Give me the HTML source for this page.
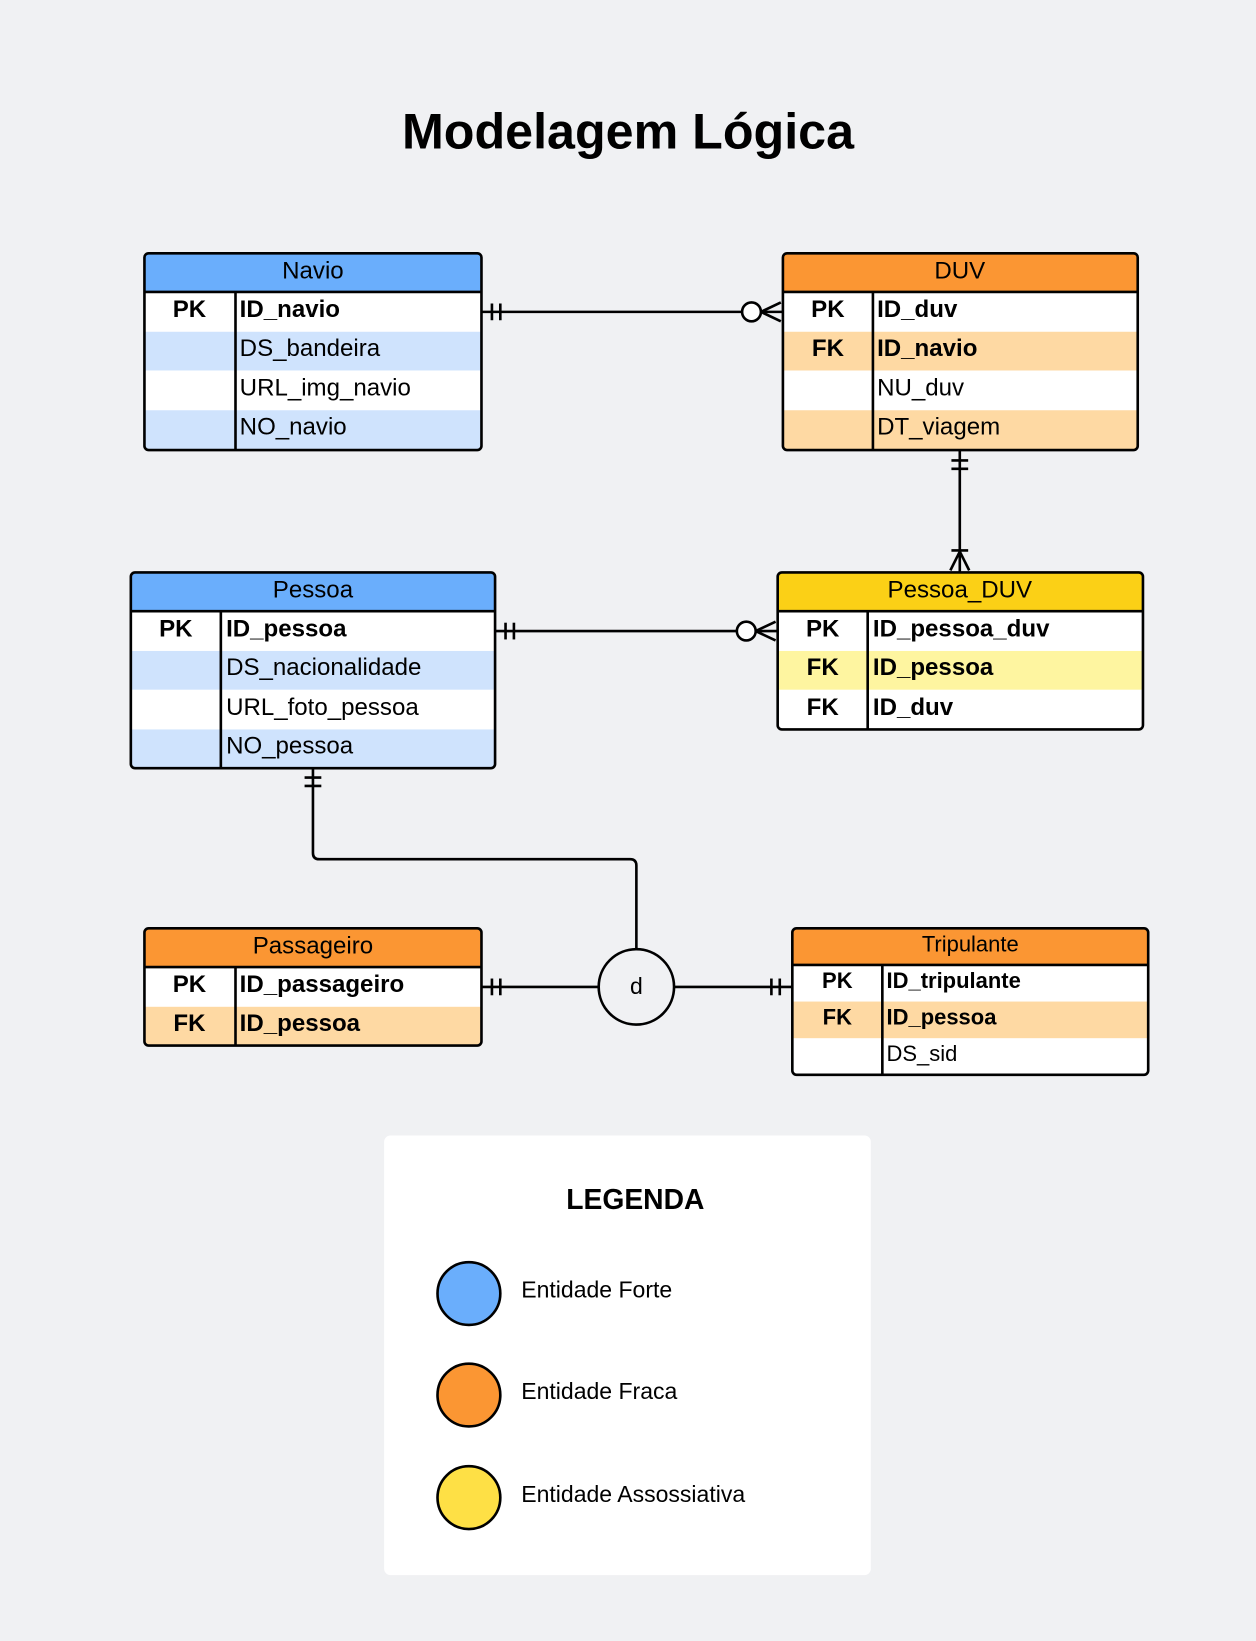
<!DOCTYPE html>
<html><head><meta charset="utf-8"><style>
html,body{margin:0;padding:0;background:#f0f1f3;}
svg{display:block;}
text{font-family:"Liberation Sans",Arial,sans-serif;}
</style></head><body>
<svg width="1256" height="1641" viewBox="0 0 1200 1568" preserveAspectRatio="none" xmlns="http://www.w3.org/2000/svg">
<rect width="1200" height="1568" fill="#f0f1f3"/>
<text x="600" y="142" font-size="48" font-weight="bold" text-anchor="middle" fill="#000">Modelagem Lógica</text>

<!-- Navio -->
<g>
<rect x="138" y="242" width="322" height="188" rx="4" fill="#fff"/>
<rect x="138" y="242" width="322" height="37" rx="4" fill="#6aaefc"/>
<rect x="138" y="317" width="322" height="37" fill="#cfe3fd"/>
<rect x="138" y="392" width="322" height="37" fill="#cfe3fd"/>
<line x1="138" y1="279" x2="460" y2="279" stroke="#000" stroke-width="2.5"/>
<line x1="225" y1="279" x2="225" y2="430" stroke="#000" stroke-width="2.5"/>
<rect x="138" y="242" width="322" height="188" rx="4" fill="none" stroke="#000" stroke-width="2.5"/>
<text x="299" y="266" font-size="23" text-anchor="middle">Navio</text>
<text x="181" y="303" font-size="23" font-weight="bold" text-anchor="middle">PK</text>
<text x="229" y="303" font-size="23" font-weight="bold">ID_navio</text>
<text x="229" y="340" font-size="23">DS_bandeira</text>
<text x="229" y="378" font-size="23">URL_img_navio</text>
<text x="229" y="415" font-size="23">NO_navio</text>
</g>

<!-- DUV -->
<g>
<rect x="748" y="242" width="339" height="188" rx="4" fill="#fff"/>
<rect x="748" y="242" width="339" height="37" rx="4" fill="#fb9633"/>
<rect x="748" y="317" width="339" height="37" fill="#fed9a3"/>
<rect x="748" y="392" width="339" height="37" fill="#fed9a3"/>
<line x1="748" y1="279" x2="1087" y2="279" stroke="#000" stroke-width="2.5"/>
<line x1="834" y1="279" x2="834" y2="430" stroke="#000" stroke-width="2.5"/>
<rect x="748" y="242" width="339" height="188" rx="4" fill="none" stroke="#000" stroke-width="2.5"/>
<text x="917" y="266" font-size="23" text-anchor="middle">DUV</text>
<text x="791" y="303" font-size="23" font-weight="bold" text-anchor="middle">PK</text>
<text x="838" y="303" font-size="23" font-weight="bold">ID_duv</text>
<text x="791" y="340" font-size="23" font-weight="bold" text-anchor="middle">FK</text>
<text x="838" y="340" font-size="23" font-weight="bold">ID_navio</text>
<text x="838" y="378" font-size="23">NU_duv</text>
<text x="838" y="415" font-size="23">DT_viagem</text>
</g>

<!-- Pessoa -->
<g>
<rect x="125" y="547" width="348" height="187" rx="4" fill="#fff"/>
<rect x="125" y="547" width="348" height="37" rx="4" fill="#6aaefc"/>
<rect x="125" y="622" width="348" height="37" fill="#cfe3fd"/>
<rect x="125" y="697" width="348" height="37" fill="#cfe3fd"/>
<line x1="125" y1="584" x2="473" y2="584" stroke="#000" stroke-width="2.5"/>
<line x1="211" y1="584" x2="211" y2="734" stroke="#000" stroke-width="2.5"/>
<rect x="125" y="547" width="348" height="187" rx="4" fill="none" stroke="#000" stroke-width="2.5"/>
<text x="299" y="571" font-size="23" text-anchor="middle">Pessoa</text>
<text x="168" y="608" font-size="23" font-weight="bold" text-anchor="middle">PK</text>
<text x="216" y="608" font-size="23" font-weight="bold">ID_pessoa</text>
<text x="216" y="645" font-size="23">DS_nacionalidade</text>
<text x="216" y="683" font-size="23">URL_foto_pessoa</text>
<text x="216" y="720" font-size="23">NO_pessoa</text>
</g>

<!-- Pessoa_DUV -->
<g>
<rect x="743" y="547" width="349" height="150" rx="4" fill="#fff"/>
<rect x="743" y="547" width="349" height="37" rx="4" fill="#fbd016"/>
<rect x="743" y="622" width="349" height="37" fill="#fef5a0"/>
<line x1="743" y1="584" x2="1092" y2="584" stroke="#000" stroke-width="2.5"/>
<line x1="829" y1="584" x2="829" y2="697" stroke="#000" stroke-width="2.5"/>
<rect x="743" y="547" width="349" height="150" rx="4" fill="none" stroke="#000" stroke-width="2.5"/>
<text x="917" y="571" font-size="23" text-anchor="middle">Pessoa_DUV</text>
<text x="786" y="608" font-size="23" font-weight="bold" text-anchor="middle">PK</text>
<text x="834" y="608" font-size="23" font-weight="bold">ID_pessoa_duv</text>
<text x="786" y="645" font-size="23" font-weight="bold" text-anchor="middle">FK</text>
<text x="834" y="645" font-size="23" font-weight="bold">ID_pessoa</text>
<text x="786" y="683" font-size="23" font-weight="bold" text-anchor="middle">FK</text>
<text x="834" y="683" font-size="23" font-weight="bold">ID_duv</text>
</g>

<!-- Passageiro -->
<g>
<rect x="138" y="887" width="322" height="112" rx="4" fill="#fff"/>
<rect x="138" y="887" width="322" height="37" rx="4" fill="#fb9633"/>
<rect x="138" y="962" width="322" height="37" fill="#fed9a3"/>
<line x1="138" y1="924" x2="460" y2="924" stroke="#000" stroke-width="2.5"/>
<line x1="225" y1="924" x2="225" y2="999" stroke="#000" stroke-width="2.5"/>
<rect x="138" y="887" width="322" height="112" rx="4" fill="none" stroke="#000" stroke-width="2.5"/>
<text x="299" y="911" font-size="23" text-anchor="middle">Passageiro</text>
<text x="181" y="948" font-size="23" font-weight="bold" text-anchor="middle">PK</text>
<text x="229" y="948" font-size="23" font-weight="bold">ID_passageiro</text>
<text x="181" y="985" font-size="23" font-weight="bold" text-anchor="middle">FK</text>
<text x="229" y="985" font-size="23" font-weight="bold">ID_pessoa</text>
</g>

<!-- Tripulante -->
<g>
<rect x="757" y="887" width="340" height="140" rx="4" fill="#fff"/>
<rect x="757" y="887" width="340" height="35" rx="4" fill="#fb9633"/>
<rect x="757" y="957" width="340" height="35" fill="#fed9a3"/>
<line x1="757" y1="922" x2="1097" y2="922" stroke="#000" stroke-width="2.5"/>
<line x1="843" y1="922" x2="843" y2="1027" stroke="#000" stroke-width="2.5"/>
<rect x="757" y="887" width="340" height="140" rx="4" fill="none" stroke="#000" stroke-width="2.5"/>
<text x="927" y="909" font-size="21" text-anchor="middle">Tripulante</text>
<text x="800" y="944" font-size="21" font-weight="bold" text-anchor="middle">PK</text>
<text x="847" y="944" font-size="21" font-weight="bold">ID_tripulante</text>
<text x="800" y="979" font-size="21" font-weight="bold" text-anchor="middle">FK</text>
<text x="847" y="979" font-size="21" font-weight="bold">ID_pessoa</text>
<text x="847" y="1014" font-size="21">DS_sid</text>
</g>

<!-- connectors -->
<g stroke="#000" stroke-width="2.5" fill="none">
<line x1="460" y1="298" x2="748" y2="298"/>
<line x1="470" y1="290" x2="470" y2="306"/><line x1="478" y1="290" x2="478" y2="306"/>
<circle cx="718" cy="298" r="9" fill="#fff"/>
<line x1="727" y1="298" x2="746" y2="289"/><line x1="727" y1="298" x2="746" y2="307"/>

<line x1="473" y1="603" x2="743" y2="603"/>
<line x1="483" y1="595" x2="483" y2="611"/><line x1="491" y1="595" x2="491" y2="611"/>
<circle cx="713" cy="603" r="9" fill="#fff"/>
<line x1="722" y1="603" x2="741" y2="594"/><line x1="722" y1="603" x2="741" y2="612"/>

<line x1="917" y1="430" x2="917" y2="547"/>
<line x1="909" y1="440" x2="925" y2="440"/><line x1="909" y1="448" x2="925" y2="448"/>
<line x1="909" y1="526" x2="925" y2="526"/>
<line x1="917" y1="527" x2="908" y2="545"/><line x1="917" y1="527" x2="926" y2="545"/>

<path d="M299 734 V815 Q299 821 305 821 H602 Q608 821 608 827 V907"/>
<line x1="291" y1="743" x2="307" y2="743"/><line x1="291" y1="751" x2="307" y2="751"/>

<line x1="460" y1="943" x2="572" y2="943"/>
<line x1="470" y1="935" x2="470" y2="951"/><line x1="478" y1="935" x2="478" y2="951"/>
<line x1="644" y1="943" x2="757" y2="943"/>
<line x1="737" y1="935" x2="737" y2="951"/><line x1="745" y1="935" x2="745" y2="951"/>
<circle cx="608" cy="943" r="36" fill="#f0f1f3"/>
</g>
<text x="608" y="950" font-size="22" text-anchor="middle">d</text>

<!-- legend -->
<rect x="367" y="1085" width="465" height="420" rx="6" fill="#fff"/>
<text x="607" y="1155" font-size="27" font-weight="bold" text-anchor="middle">LEGENDA</text>
<circle cx="448" cy="1236" r="30" fill="#6aaefc" stroke="#000" stroke-width="2.5"/>
<text x="498" y="1240" font-size="22">Entidade Forte</text>
<circle cx="448" cy="1333" r="30" fill="#fb9633" stroke="#000" stroke-width="2.5"/>
<text x="498" y="1337" font-size="22">Entidade Fraca</text>
<circle cx="448" cy="1431" r="30" fill="#fee045" stroke="#000" stroke-width="2.5"/>
<text x="498" y="1435" font-size="22">Entidade Assossiativa</text>
</svg>
</body></html>
